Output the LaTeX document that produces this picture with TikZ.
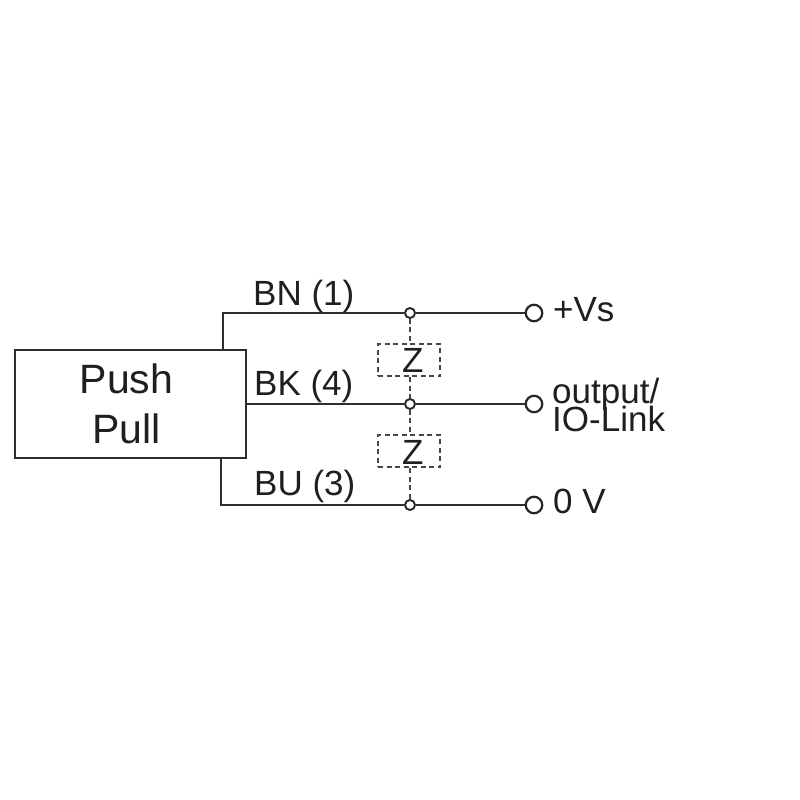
\documentclass[tikz,border=0pt]{standalone}
\usepackage{fontspec}
\setmainfont{Liberation Sans}
\newcommand{\tightlines}{\setlength{\lineskiplimit}{-100pt}}
\tikzset{
  x=1pt,y=-1pt,
  wire/.style={draw=black!82,line width=2.2pt},
  lnk/.style={draw=black!72,line width=2pt,dash pattern=on 5pt off 3.5pt},
  blockbox/.style={draw=black!82,line width=2.2pt,fill=white,minimum width=231pt,minimum height=108pt,inner sep=0pt,align=center,text=black!88,font=\fontsize{41}{50}\selectfont},
  junction/.style={circle,draw=black!85,line width=1.9pt,fill=white,minimum size=10pt,inner sep=0pt},
  terminal/.style={circle,draw=black!85,line width=2.2pt,fill=white,minimum size=16.5pt,inner sep=0pt},
  zbox/.style={rectangle,lnk,minimum width=62pt,minimum height=32pt,inner sep=0pt},
  lbl/.style={inner sep=0pt,text=black!88,font=\fontsize{35}{28}\selectfont\tightlines},
}
\begin{document}
\begin{tikzpicture}
\useasboundingbox (0,0) rectangle (800,800);
\fill[white] (0,0) rectangle (800,800);
\node[blockbox] (pp) at (130.5,404) {Push\hspace*{8pt}\\Pull\hspace*{8pt}};
\coordinate (bnroot) at (223,350);
\coordinate (buroot) at (221,458);
\node[junction] (j1) at (410,313) {};
\node[junction] (j2) at (410,404) {};
\node[junction] (j3) at (410,505) {};
\node[terminal] (t1) at (534,313) {};
\node[terminal] (t2) at (534,404) {};
\node[terminal] (t3) at (534,505) {};
\node[zbox] (z1) at (409,360.3) {};
\node[zbox] (z2) at (409,451.3) {};
\draw[wire] (bnroot) |- (j1);
\draw[wire] (j1) -- (t1);
\draw[wire] (pp.east |- j2) -- (j2);
\draw[wire] (j2) -- (t2);
\draw[wire] (buroot) |- (j3);
\draw[wire] (j3) -- (t3);
\draw[lnk] (j1) -- (j1 |- z1.north);
\draw[lnk] (j1 |- z1.south) -- (j2);
\draw[lnk] (j2) -- (j2 |- z2.north);
\draw[lnk] (j2 |- z2.south) -- (j3);
\node[lbl,anchor=base west] (bn) at (253,305) {BN (1)};
\node[lbl,anchor=base west] (bk) at (254,395) {BK (4)};
\node[lbl,anchor=base west] (bu) at (254,495) {BU (3)};
\node[lbl,anchor=base] (zl1) at (412.8,372.7) {Z};
\node[lbl,anchor=base] (zl2) at (412.8,464) {Z};
\node[lbl,anchor=base west] (vs) at (553,321) {+Vs};
\node[lbl,anchor=base west] (zv) at (553,513) {0 V};
\node[lbl,anchor=west,align=left] (out) at (552,405) {output/\\IO-Link};
\end{tikzpicture}
\end{document}
